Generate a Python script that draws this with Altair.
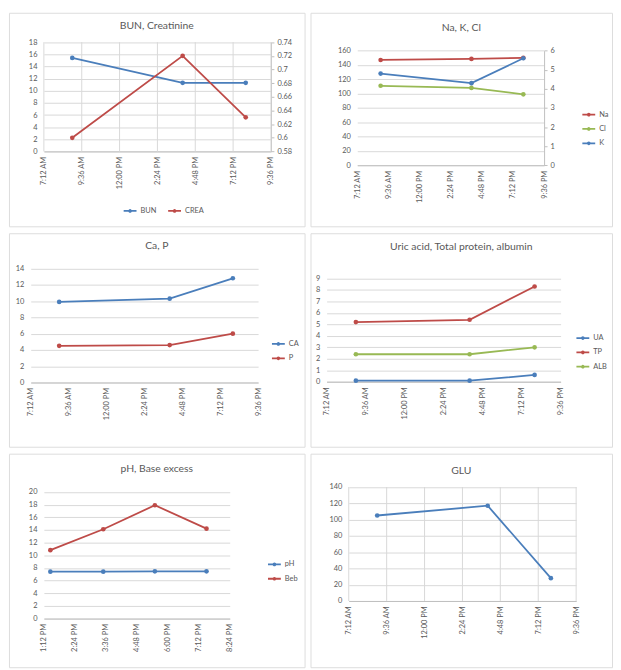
import json
import altair as alt
import pandas as pd

# ---------------- data ----------------
TIMES = [9.0, 16.0, 20.0]            # hours of the day of the three lab draws
BUN = [15.4, 11.3, 11.3]
CREA = [0.60, 0.72, 0.63]
NA = [147, 148.5, 150]
CL = [111, 108, 99]
K = [4.8, 4.3, 5.6]
CA = [9.9, 10.3, 12.8]
P = [4.5, 4.6, 6.0]
UA = [0.1, 0.1, 0.6]
TP = [5.2, 5.4, 8.3]
ALB = [2.4, 2.4, 3.0]
GLU = [105, 117, 28]
GAS_TIMES = [13.45, 15.5, 17.5, 19.5]   # blood gas draws
PH = [7.40, 7.40, 7.45, 7.45]
BEB = [10.8, 14.1, 17.9, 14.2]

DAY_TICKS = [7.2, 9.6, 12.0, 14.4, 16.8, 19.2, 21.6]
DAY_LABELS = ["7:12 AM", "9:36 AM", "12:00 PM", "2:24 PM", "4:48 PM", "7:12 PM", "9:36 PM"]
GAS_TICKS = [13.2, 14.4, 15.6, 16.8, 18.0, 19.2, 20.4]
GAS_LABELS = ["1:12 PM", "2:24 PM", "3:36 PM", "4:48 PM", "6:00 PM", "7:12 PM", "8:24 PM"]

BUN_TICKS = [0, 2, 4, 6, 8, 10, 12, 14, 16, 18]
CREA_TICKS = [0.58, 0.60, 0.62, 0.64, 0.66, 0.68, 0.70, 0.72, 0.74]
NACL_TICKS = [0, 20, 40, 60, 80, 100, 120, 140, 160]
K_TICKS = [0, 1, 2, 3, 4, 5, 6]
CAP_TICKS = [0, 2, 4, 6, 8, 10, 12, 14]
PROT_TICKS = [0, 1, 2, 3, 4, 5, 6, 7, 8, 9]
GAS_Y_TICKS = [0, 2, 4, 6, 8, 10, 12, 14, 16, 18, 20]
GLU_TICKS = [0, 20, 40, 60, 80, 100, 120, 140]

TITLES = ["BUN, Creatinine", "Na, K, Cl", "Ca, P",
          "Uric acid, Total protein, albumin", "pH, Base excess", "GLU"]

# ---------------- style ----------------
BLUE, RED, GREEN = "#4A7EBB", "#BE4B48", "#98B954"
GRID = "#D9D9D9"
AXIS = "#BFBFBF"
TEXT = "#595959"
FONT = "Lato"
LBL = 7.5
SYMBOL = "M-1,0H1M-0.15,0A0.15,0.15 0 1,0 0.15,0A0.15,0.15 0 1,0 -0.15,0"
W1, W2, FH = 299, 305, 216   # panel frame sizes (the view is the whole panel)


def long_df(names, times, series):
    rows = []
    for name, vals in zip(names, series):
        for t, v in zip(times, vals):
            rows.append({"t": t, "v": v, "s": name})
    return pd.DataFrame(rows)


def x_axis(ticks, labels, bottom):
    expr = f"{json.dumps(labels)}[indexof({json.dumps(ticks)}, datum.value)]"
    return alt.Axis(values=ticks, labelExpr=expr, labelAngle=270, grid=False,
                    domainColor=AXIS, ticks=False, labelPadding=5,
                    labelOverlap=False, labelFlush=False, labelColor=TEXT,
                    labelFontSize=LBL, labelFont=FONT, title=None,
                    offset=bottom - FH)


def y_left(ticks, left):
    return alt.Axis(values=ticks, grid=True, gridColor=GRID, domain=False, ticks=False,
                    labelPadding=7, labelOverlap=False, labelColor=TEXT,
                    labelFontSize=LBL, labelFont=FONT, title=None, offset=-left)


def y_right(ticks, fmt, right, fw):
    return alt.Axis(values=ticks, orient="right", grid=False, domain=True, domainColor=AXIS,
                    ticks=True, tickColor=AXIS, tickSize=3, labelPadding=3, format=fmt,
                    labelOverlap=False, labelColor=TEXT, labelFontSize=LBL,
                    labelFont=FONT, title=None, offset=right - fw)


def legend(x, y, horizontal=False):
    kw = dict(orient="none", legendX=x, legendY=y, title=None, symbolType=SYMBOL,
              symbolSize=169, symbolStrokeWidth=1.8, labelFontSize=LBL, labelFont=FONT,
              labelColor=TEXT, labelOffset=3, padding=0, rowPadding=1.5, columnPadding=7)
    if horizontal:
        kw["direction"] = "horizontal"
    return alt.Legend(**kw)


def lines(df, xscale, xax, yscale, yax, cscale, leg):
    return alt.Chart(df).mark_line(
        strokeWidth=1.8, point=alt.OverlayMarkDef(filled=True, size=22, opacity=1)
    ).encode(
        x=alt.X("t:Q", scale=xscale, axis=xax),
        y=alt.Y("v:Q", scale=yscale, axis=yax),
        color=alt.Color("s:N", scale=cscale, legend=leg),
    )


def vgrid(ticks, xscale, xax, top, bottom):
    # vertical gridlines at the time ticks
    return alt.Chart(pd.DataFrame({"t": ticks})).mark_rule(color=GRID, strokeWidth=1).encode(
        x=alt.X("t:Q", scale=xscale, axis=xax), y=alt.value(top), y2=alt.value(bottom))


def heading(text, fw, center_y):
    return alt.Chart(pd.DataFrame({"title": [text]})).mark_text(
        fontSize=10.5, font=FONT, color=TEXT, align="center", baseline="middle"
    ).encode(text="title:N", x=alt.value(fw / 2), y=alt.value(center_y))


def xs(domain, left, right):
    return alt.Scale(domain=domain, range=[left, right], nice=False, zero=False)


def ys(domain, top, bottom):
    return alt.Scale(domain=domain, range=[bottom, top], nice=False, zero=False)


DAY = [7.2, 21.6]
GAS = [13.2, 20.4]
LY = -8.5   # legend entry centre correction

# ---- panel 1: BUN, Creatinine ----
L, R, T, B = 35.3, 265, 29.7, 140.3
c1 = alt.Scale(domain=["BUN", "CREA"], range=[BLUE, RED])
xa = x_axis(DAY_TICKS, DAY_LABELS, B)
p1 = alt.layer(
    vgrid(DAY_TICKS, xs(DAY, L, R), xa, T, B),
    lines(long_df(["BUN"], TIMES, [BUN]), xs(DAY, L, R), xa,
          ys([0, 18], T, B), y_left(BUN_TICKS, L), c1, legend(115, 201 + LY, True)),
    lines(long_df(["CREA"], TIMES, [CREA]), xs(DAY, L, R), xa,
          ys([0.58, 0.74], T, B), y_right(CREA_TICKS, ".2~f", R, W1), c1,
          legend(115, 201 + LY, True)),
    heading(TITLES[0], W1, 13.5),
).resolve_scale(y="independent").properties(width=W1, height=FH)

# ---- panel 2: Na, K, Cl ----
L, R, T, B = 47.3, 236.3, 38.3, 154.3
c2 = alt.Scale(domain=["Na", "Cl", "K"], range=[RED, GREEN, BLUE])
xa = x_axis(DAY_TICKS, DAY_LABELS, B)
p2 = alt.layer(
    lines(long_df(["Na", "Cl"], TIMES, [NA, CL]), xs(DAY, L, R), xa,
          ys([0, 160], T, B), y_left(NACL_TICKS, L), c2, legend(274, 104 + LY)),
    lines(long_df(["K"], TIMES, [K]), xs(DAY, L, R), xa,
          ys([0, 6], T, B), y_right(K_TICKS, "d", R, W2), c2, legend(274, 104 + LY)),
    heading(TITLES[1], W2, 15.5),
).resolve_scale(y="independent").properties(width=W2, height=FH)

# ---- panel 3: Ca, P ----
L, R, T, B = 22, 252, 35.7, 151
c3 = alt.Scale(domain=["CA", "P"], range=[BLUE, RED])
p3 = alt.layer(
    lines(long_df(["CA", "P"], TIMES, [CA, P]), xs(DAY, L, R),
          x_axis(DAY_TICKS, DAY_LABELS, B),
          ys([0, 14], T, B), y_left(CAP_TICKS, L), c3, legend(265, 113 + LY)),
    heading(TITLES[2], W1, 12.5),
).properties(width=W1, height=FH)

# ---- panel 4: Uric acid, Total protein, albumin ----
L, R, T, B = 16.3, 253, 45.7, 150.3
c4 = alt.Scale(domain=["UA", "TP", "ALB"], range=[BLUE, RED, GREEN])
p4 = alt.layer(
    lines(long_df(["UA", "TP", "ALB"], TIMES, [UA, TP, ALB]), xs(DAY, L, R),
          x_axis(DAY_TICKS, DAY_LABELS, B),
          ys([0, 9], T, B), y_left(PROT_TICKS, L), c4, legend(268, 107 + LY)),
    heading(TITLES[3], W2, 14.3),
).properties(width=W2, height=FH)

# ---- panel 5: pH, Base excess ----
L, R, T, B = 35.3, 223.3, 38.7, 166.7
c5 = alt.Scale(domain=["pH", "Beb"], range=[BLUE, RED])
p5 = alt.layer(
    lines(long_df(["pH", "Beb"], GAS_TIMES, [PH, BEB]), xs(GAS, L, R),
          x_axis(GAS_TICKS, GAS_LABELS, B),
          ys([0, 20], T, B), y_left(GAS_Y_TICKS, L), c5, legend(261, 113 + LY)),
    heading(TITLES[4], W1, 16),
).properties(width=W1, height=FH)

# ---- panel 6: GLU ----
L, R, T, B = 38.7, 268.7, 33.7, 149
c6 = alt.Scale(domain=["GLU"], range=[BLUE])
xa = x_axis(DAY_TICKS, DAY_LABELS, B)
p6 = alt.layer(
    vgrid(DAY_TICKS, xs(DAY, L, R), xa, T, B),
    lines(long_df(["GLU"], TIMES, [GLU]), xs(DAY, L, R), xa,
          ys([0, 140], T, B), y_left(GLU_TICKS, L), c6, None),
    heading(TITLES[5], W2, 17.8),
).properties(width=W2, height=FH)


def row(a, b):
    return alt.hconcat(a, b, spacing=4).resolve_scale(color="independent").resolve_legend(
        color="independent")


chart = alt.vconcat(row(p1, p2), row(p3, p4), row(p5, p6), spacing=5).resolve_scale(
    color="independent").resolve_legend(color="independent").properties(
    padding=0, background="white"
).configure_view(stroke=GRID, strokeWidth=1).configure(font=FONT)

chart.save("out.html", embed_options={"renderer": "svg", "actions": False})
